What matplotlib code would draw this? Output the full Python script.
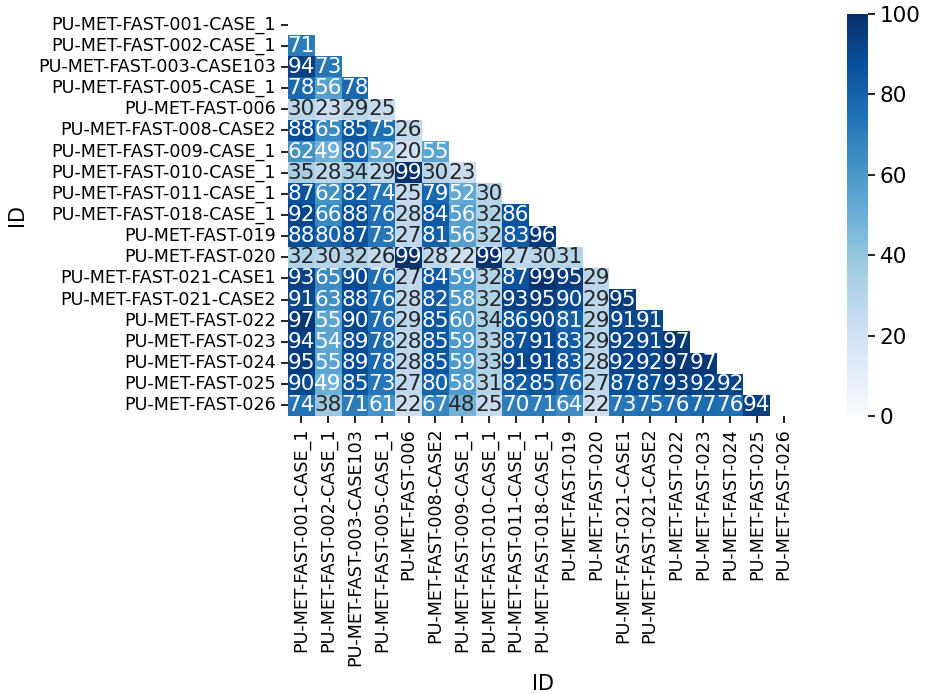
import numpy as np
import matplotlib
matplotlib.use("Agg")
import matplotlib.pyplot as plt
import seaborn as sns

ids = ["PU-MET-FAST-001-CASE_1", "PU-MET-FAST-002-CASE_1", "PU-MET-FAST-003-CASE103",
       "PU-MET-FAST-005-CASE_1", "PU-MET-FAST-006", "PU-MET-FAST-008-CASE2",
       "PU-MET-FAST-009-CASE_1", "PU-MET-FAST-010-CASE_1", "PU-MET-FAST-011-CASE_1",
       "PU-MET-FAST-018-CASE_1", "PU-MET-FAST-019", "PU-MET-FAST-020",
       "PU-MET-FAST-021-CASE1", "PU-MET-FAST-021-CASE2", "PU-MET-FAST-022",
       "PU-MET-FAST-023", "PU-MET-FAST-024", "PU-MET-FAST-025", "PU-MET-FAST-026"]

# lower triangle, row by row (similarity in %)
lower = [
    [],
    [71],
    [94, 73],
    [78, 56, 78],
    [30, 23, 29, 25],
    [88, 65, 85, 75, 26],
    [62, 49, 80, 52, 20, 55],
    [35, 28, 34, 29, 99, 30, 23],
    [87, 62, 82, 74, 25, 79, 52, 30],
    [92, 66, 88, 76, 28, 84, 56, 32, 86],
    [88, 80, 87, 73, 27, 81, 56, 32, 83, 96],
    [32, 30, 32, 26, 99, 28, 22, 99, 27, 30, 31],
    [93, 65, 90, 76, 27, 84, 59, 32, 87, 99, 95, 29],
    [91, 63, 88, 76, 28, 82, 58, 32, 93, 95, 90, 29, 95],
    [97, 55, 90, 76, 29, 85, 60, 34, 86, 90, 81, 29, 91, 91],
    [94, 54, 89, 78, 28, 85, 59, 33, 87, 91, 83, 29, 92, 91, 97],
    [95, 55, 89, 78, 28, 85, 59, 33, 91, 91, 83, 28, 92, 92, 97, 97],
    [90, 49, 85, 73, 27, 80, 58, 31, 82, 85, 76, 27, 87, 87, 93, 92, 92],
    [74, 38, 71, 61, 22, 67, 48, 25, 70, 71, 64, 22, 73, 75, 76, 77, 76, 94],
]

n = len(ids)
sim = np.full((n, n), 100.0)
for i, row in enumerate(lower):
    for j, v in enumerate(row):
        sim[i, j] = v
        sim[j, i] = v

mask = np.triu(np.ones_like(sim, dtype=bool))

fig = plt.figure(figsize=(9.26, 6.94), dpi=100)
W, H = 926, 694
ax = fig.add_axes([288 / W, (H - 416) / H, 509 / W, 402 / H])
cax = fig.add_axes([847 / W, (H - 416) / H, 21 / W, 402 / H])

sns.heatmap(sim, mask=mask, annot=True, fmt=".0f", cmap="Blues", vmin=0, vmax=100,
            xticklabels=ids, yticklabels=ids, ax=ax, cbar_ax=cax,
            annot_kws={"fontsize": 15.5})

ax.set_xlabel("ID", fontsize=15, labelpad=6)
ax.set_ylabel("ID", fontsize=15, labelpad=8)
ax.tick_params(axis="both", labelsize=12.6, length=5, width=1.2)
plt.setp(ax.get_xticklabels(), rotation=90)
plt.setp(ax.get_yticklabels(), rotation=0)
cax.tick_params(labelsize=15.5, length=5, width=1.2)
cax.set_yticks([0, 20, 40, 60, 80, 100])

fig.savefig("out.png", dpi=100)
